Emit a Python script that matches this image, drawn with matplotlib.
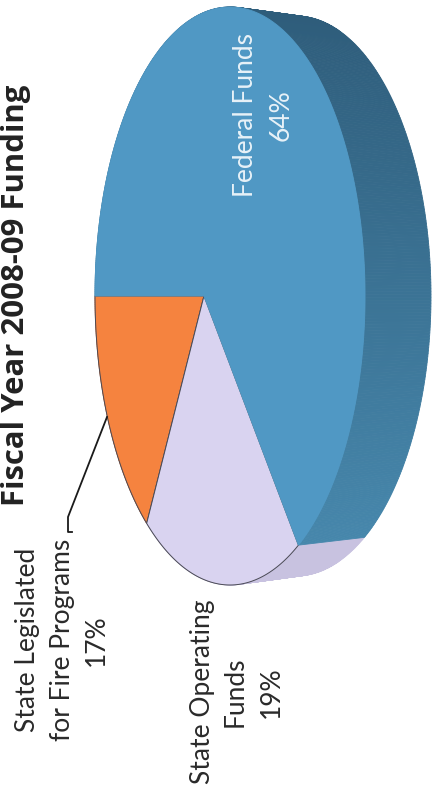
import matplotlib

matplotlib.use("Agg")
import matplotlib.pyplot as plt
import numpy as np
from matplotlib.colors import to_rgb

plt.rcParams["font.family"] = ["Lato", "DejaVu Sans"]

SLICE_NAMES = ["State Legislated for Fire Programs", "State Operating Funds", "Federal Funds"]
SHARES = [17, 19, 64]
TOP_COLORS = ["#f5833f", "#d9d3f0", "#5098c4"]
TITLE = "Fiscal Year 2008-09 Funding"

# ellipse of the top face, in pixels
CX, CY, RX, RY = 230, 296, 135, 289
# the far rim is shifted right and a bit smaller
DEPTH, RY_BACK = 66, 280
# where the pie centre lands inside the ellipse (perspective)
SKEW = -0.193


def disc_to_ellipse(x, y):
    d = 1 + SKEW * x
    return (x + SKEW) / d, y * np.sqrt(1 - SKEW**2) / d


def slice_rim(start, stop):
    t = np.radians(np.linspace(start, stop, max(int(stop - start), 2) * 2))
    return disc_to_ellipse(-np.cos(t), np.sin(t))


def side_color(y, low, high):
    f = np.clip(y / 560, 0, 1)
    return tuple((1 - f) * np.array(to_rgb(low)) + f * np.array(to_rgb(high)))


fig = plt.figure(figsize=(4.36, 7.92), dpi=100)
ax = fig.add_axes([0, 0, 1, 1])
ax.set_xlim(0, 436)
ax.set_ylim(792, 0)
ax.axis("off")

angles = np.concatenate([[0], np.cumsum(SHARES)]) / sum(SHARES) * 360
rims = [slice_rim(a, b) for a, b in zip(angles[:-1], angles[1:])]

# side wall, drawn as thin quads so the shade can change along it
side_shades = [("#d8642a", "#d8642a"), ("#c0badb", "#c8c2e0"), ("#2e5c7a", "#4788ad")]
for (u, v), (low, high) in zip(rims, side_shades):
    fx, fy = CX + RX * u, CY + RY * v
    bx, by = CX + DEPTH + RX * u, CY + RY_BACK * v
    for i in range(len(u) - 1):
        c = side_color(fy[i], low, high)
        ax.fill(
            [fx[i], fx[i + 1], bx[i + 1], bx[i]],
            [fy[i], fy[i + 1], by[i + 1], by[i]],
            color=c,
            lw=0.6,
        )

# top face
hub_x, hub_y = CX + RX * SKEW, CY
for (u, v), color, name in zip(rims, TOP_COLORS, SLICE_NAMES):
    xs = np.concatenate([[hub_x], CX + RX * u])
    ys = np.concatenate([[hub_y], CY + RY * v])
    edge = color if name == "Federal Funds" else "#4a4a55"
    ax.fill(xs, ys, facecolor=color, edgecolor=edge, lw=0.7)

# leader line
ax.plot([107, 68, 68, 72], [417, 517, 532, 532], color="#1a1a1a", lw=1.3)

ax.text(16, 295, TITLE, rotation=90, ha="center", va="center", fontsize=22.4,
        fontweight="bold", color="#222222", family=["Open Sans", "DejaVu Sans"])
ax.text(245, 115, "Federal Funds", rotation=90, ha="center", va="center",
        fontsize=19, color="#e8f2f8")
ax.text(281, 115, "64%", rotation=90, ha="center", va="center",
        fontsize=19, color="#e8f2f8")
ax.text(27, 640, "State Legislated", rotation=90, ha="center", va="center",
        fontsize=19, color="#2a2a2a")
ax.text(62, 640, "for Fire Programs", rotation=90, ha="center", va="center",
        fontsize=19, color="#2a2a2a")
ax.text(96, 640, "17%", rotation=90, ha="center", va="center",
        fontsize=19, color="#2a2a2a")
ax.text(202, 692, "State Operating", rotation=90, ha="center", va="center",
        fontsize=19, color="#2a2a2a")
ax.text(235, 692, "Funds", rotation=90, ha="center", va="center",
        fontsize=19, color="#2a2a2a")
ax.text(271, 692, "19%", rotation=90, ha="center", va="center",
        fontsize=19, color="#2a2a2a")

fig.savefig("out.png", dpi=100)
